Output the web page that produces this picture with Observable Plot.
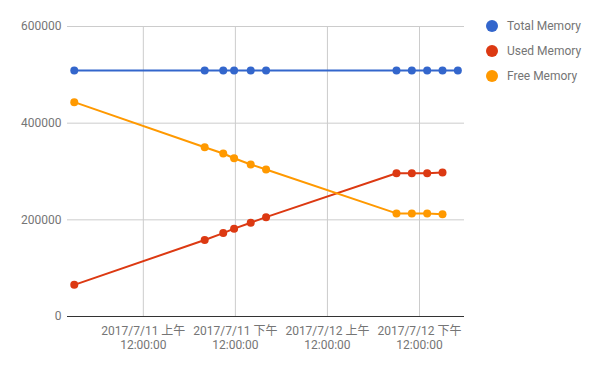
<!DOCTYPE html>
<html>
<head>
<meta charset="utf-8">
<script src="https://cdn.jsdelivr.net/npm/d3@7"></script>
<script src="https://cdn.jsdelivr.net/npm/@observablehq/plot@0.6"></script>
<style>
  body { margin: 0; background: #fff; }
  #wrap { position: relative; width: 600px; height: 371px; font-family: Roboto, "Noto Sans CJK SC", sans-serif; }
  #legend { position: absolute; left: 486px; top: 13px; font-size: 12px; color: #757575; }
  .item { display: flex; align-items: center; height: 25px; margin-top: 0; }
  .sw { width: 12px; height: 12px; border-radius: 50%; margin-right: 9px; flex: none; }
</style>
</head>
<body>
<div id="wrap"><div id="chart"></div><div id="legend"></div></div>
<script>
const seriesNames = ["Total Memory", "Used Memory", "Free Memory"];
const seriesColors = ["#3366cc", "#dc3912", "#ff9900"];
const times = ["2017-07-10T15:00Z","2017-07-11T08:00Z","2017-07-11T10:25Z","2017-07-11T11:50Z","2017-07-11T14:00Z","2017-07-11T16:00Z","2017-07-12T09:00Z","2017-07-12T11:00Z","2017-07-12T13:00Z","2017-07-12T15:00Z","2017-07-12T17:00Z"];
const totalMemory = [509000,509000,509000,509000,509000,509000,509000,509000,509000,509000,509000];
const usedMemory  = [65500,158200,172600,181700,194100,205600,296500,296500,296500,297900,null];
const freeMemory  = [443500,350200,337200,327500,314500,304100,213300,213300,213300,211800,null];
const xTicks = ["2017-07-11T00:00Z","2017-07-11T12:00Z","2017-07-12T00:00Z","2017-07-12T12:00Z"];
const xTickLabels = ["2017/7/11 上午\n12:00:00","2017/7/11 下午\n12:00:00","2017/7/12 上午\n12:00:00","2017/7/12 下午\n12:00:00"];
const yTicks = [0, 200000, 400000, 600000];
const xDomain = ["2017-07-10T14:07Z", "2017-07-12T17:52Z"];

const seriesValues = [totalMemory, usedMemory, freeMemory];
const data = [];
seriesNames.forEach((name, s) => {
  times.forEach((t, i) => {
    const v = seriesValues[s][i];
    if (v != null) data.push({series: name, time: new Date(t), value: v});
  });
});
const tickDates = xTicks.map(t => new Date(t));
const fmtX = d => { const i = tickDates.findIndex(t => +t === +d); return i >= 0 ? xTickLabels[i] : ""; };

const chart = Plot.plot({
  width: 600,
  height: 371,
  marginLeft: 67,
  marginRight: 136,
  marginTop: 26,
  marginBottom: 55,
  style: {fontFamily: 'Roboto, "Noto Sans CJK SC", sans-serif', fontSize: "12px", color: "#757575", background: "white"},
  x: {type: "utc", domain: xDomain.map(d => new Date(d)), label: null},
  y: {domain: [0, 600000], label: null},
  color: {domain: seriesNames, range: seriesColors},
  marks: [
    Plot.gridY(yTicks.slice(1), {stroke: "#cccccc", strokeOpacity: 1}),
    Plot.gridX(tickDates, {stroke: "#cccccc", strokeOpacity: 1}),
    Plot.axisY(yTicks, {tickSize: 0, tickPadding: 6, tickFormat: d => String(d), fill: "#757575", label: null}),
    Plot.axisX(tickDates, {tickSize: 0, tickPadding: 8, tickFormat: fmtX, lineHeight: 1.2, fill: "#757575", label: null}),
    Plot.ruleY([0], {stroke: "#333333", strokeWidth: 1}),
    Plot.line(data, {x: "time", y: "value", z: "series", stroke: "series", strokeWidth: 2}),
    Plot.dot(data, {x: "time", y: "value", fill: "series", r: 4})
  ]
});
document.getElementById("chart").appendChild(chart);

const legend = document.getElementById("legend");
seriesNames.forEach((name, i) => {
  const item = document.createElement("div");
  item.className = "item";
  const sw = document.createElement("span");
  sw.className = "sw";
  sw.style.background = seriesColors[i];
  const label = document.createElement("span");
  label.textContent = name;
  item.appendChild(sw);
  item.appendChild(label);
  legend.appendChild(item);
});
</script>
</body>
</html>
